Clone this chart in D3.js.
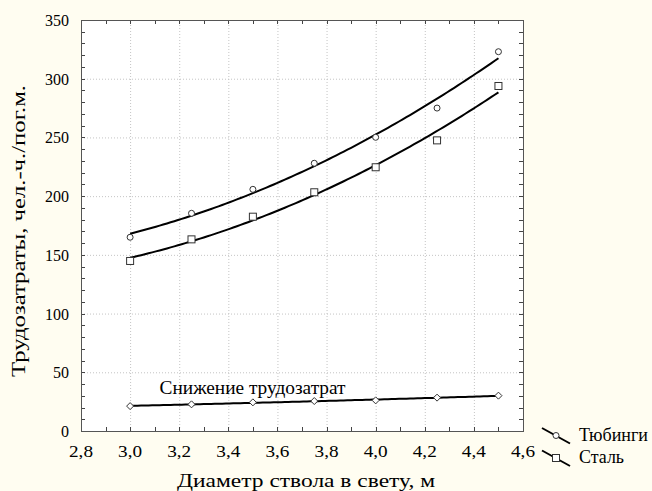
<!DOCTYPE html>
<html><head><meta charset="utf-8">
<script src="https://cdn.jsdelivr.net/npm/d3@7/dist/d3.min.js"></script>
</head>
<body style="margin:0;background:#FFFDF1">
<svg id="c" width="652" height="491" style="display:block"></svg>
<script>
// ---- data ----
const diameters = [3.0, 3.25, 3.5, 3.75, 4.0, 4.25, 4.5];
const tubing = [165, 185.4, 205.8, 228, 250.1, 275, 323];
const steel = [144.8, 163.2, 182.5, 203.3, 224.6, 247.5, 293.8];
const reduction = [21.2, 22.7, 24.4, 25.5, 26.1, 28.4, 30.1];
const xTicks = [2.8, 3.0, 3.2, 3.4, 3.6, 3.8, 4.0, 4.2, 4.4, 4.6];
const yTicks = [0, 50, 100, 150, 200, 250, 300, 350];
const seriesNames = ["Тюбинги", "Сталь"];
const xTitle = "Диаметр ствола в свету, м";
const yTitle = "Трудозатраты, чел.-ч./пог.м.";
const annotation = "Снижение трудозатрат";

const FONT = "Liberation Serif";
const svg = d3.select("#c");
const W = 652, H = 491;
const m = {left: 81, right: 129, top: 20, bottom: 60};
const x = d3.scaleLinear().domain([2.8, 4.6]).range([m.left, W - m.right]);
const y = d3.scaleLinear().domain([0, 350]).range([H - m.bottom, m.top]);

svg.append("rect").attr("x", x(2.8)).attr("y", y(350))
  .attr("width", x(4.6) - x(2.8)).attr("height", y(0) - y(350)).attr("fill", "#fff");

const g = svg.append("g");
g.selectAll(".vg").data(xTicks.slice(1, -1)).join("line")
  .attr("x1", d => x(d) + 0.5).attr("x2", d => x(d) + 0.5).attr("y1", y(0)).attr("y2", y(350))
  .attr("stroke", "#c4c4c4").attr("stroke-dasharray", "1,2");
g.selectAll(".hg").data(yTicks.slice(1, -1)).join("line")
  .attr("y1", d => y(d) + 0.5).attr("y2", d => y(d) + 0.5).attr("x1", x(2.8)).attr("x2", x(4.6))
  .attr("stroke", "#c4c4c4").attr("stroke-dasharray", "1,2");

const fmt = d => d3.format(".1f")(d).replace(".", ",");
const xMinor = d3.range(28, 47, 1).map(v => v / 10);
const yMinor = d3.range(0, 351, 10);
function ticks(axis, tx, ty) {
  const sel = svg.append("g").attr("transform", `translate(${tx},${ty})`).call(axis);
  sel.select(".domain").remove();
  sel.selectAll(".tick line").attr("stroke", "#444").attr("shape-rendering", "crispEdges");
  sel.selectAll(".tick text").remove();
}
ticks(d3.axisBottom(x).tickValues(xMinor).tickSize(-4), 0, y(0));
ticks(d3.axisTop(x).tickValues(xMinor).tickSize(-4), 0, y(350));
ticks(d3.axisLeft(y).tickValues(yMinor).tickSize(-4), x(2.8), 0);
ticks(d3.axisRight(y).tickValues(yMinor).tickSize(-4), x(4.6), 0);

svg.selectAll(".xl").data(xTicks).join("text")
  .attr("x", d => x(d)).attr("y", y(0) + 26).attr("text-anchor", "middle")
  .attr("font-family", FONT).attr("font-size", 17)
  .attr("textLength", 24).attr("lengthAdjust", "spacingAndGlyphs").text(fmt);
svg.selectAll(".yl").data(yTicks).join("text")
  .attr("x", x(2.8) - 12).attr("y", d => y(d) + 6).attr("text-anchor", "end")
  .attr("font-family", FONT).attr("font-size", 16).text(d => d);

svg.append("rect").attr("x", x(2.8) + 0.5).attr("y", y(350) + 0.5)
  .attr("width", x(4.6) - x(2.8)).attr("height", y(0) - y(350))
  .attr("fill", "none").attr("stroke", "#555").attr("shape-rendering", "crispEdges");

// quadratic least-squares fit
function quadFit(xs, ys) {
  const n = xs.length;
  let s = [0,0,0,0,0], t = [0,0,0];
  for (let i = 0; i < n; i++) {
    const xi = xs[i], yi = ys[i];
    for (let k = 0; k <= 4; k++) s[k] += Math.pow(xi, k);
    for (let k = 0; k <= 2; k++) t[k] += Math.pow(xi, k) * yi;
  }
  const A = [[s[0], s[1], s[2], t[0]], [s[1], s[2], s[3], t[1]], [s[2], s[3], s[4], t[2]]];
  for (let i = 0; i < 3; i++) {
    for (let j = i + 1; j < 3; j++) {
      const f = A[j][i] / A[i][i];
      for (let k = i; k < 4; k++) A[j][k] -= f * A[i][k];
    }
  }
  const c = [0,0,0];
  for (let i = 2; i >= 0; i--) {
    let v = A[i][3];
    for (let k = i + 1; k < 3; k++) v -= A[i][k] * c[k];
    c[i] = v / A[i][i];
  }
  return xv => c[0] + c[1] * xv + c[2] * xv * xv;
}

const line = d3.line().x(d => x(d[0])).y(d => y(d[1]));
const samples = d3.range(0, 101).map(i => 3.0 + 1.5 * i / 100);
[tubing, steel, reduction].forEach(vals => {
  const f = quadFit(diameters, vals);
  svg.append("path").datum(samples.map(s => [s, f(s)]))
    .attr("d", line).attr("fill", "none").attr("stroke", "#000").attr("stroke-width", 2);
});

const mk = "#333";
svg.selectAll(".c").data(diameters).join("circle")
  .attr("cx", d => x(d)).attr("cy", (d, i) => y(tubing[i])).attr("r", 3)
  .attr("fill", "#fff").attr("stroke", mk);
svg.selectAll(".s").data(diameters).join("rect")
  .attr("x", d => x(d) - 3.5).attr("y", (d, i) => y(steel[i]) - 3.5)
  .attr("width", 7).attr("height", 7).attr("fill", "#fff").attr("stroke", mk);
svg.selectAll(".d").data(diameters).join("path")
  .attr("d", (d, i) => { const cx = x(d), cy = y(reduction[i]); return `M${cx-3.5},${cy}L${cx},${cy-3.5}L${cx+3.5},${cy}L${cx},${cy+3.5}Z`; })
  .attr("fill", "#fff").attr("stroke", mk);

svg.append("text").attr("x", x(3.12)).attr("y", y(31.5)).attr("font-family", FONT).attr("font-size", 18)
  .attr("textLength", 186).attr("lengthAdjust", "spacingAndGlyphs").text(annotation);

svg.append("text").attr("x", 177).attr("y", 487).attr("font-family", FONT)
  .attr("font-size", 19).attr("textLength", 258).attr("lengthAdjust", "spacingAndGlyphs").text(xTitle);
svg.append("text").attr("transform", `translate(25,377) rotate(-90)`).attr("font-family", FONT)
  .attr("font-size", 19).attr("textLength", 292).attr("lengthAdjust", "spacingAndGlyphs").text(yTitle);

const legLen = [69, 45];
[0, 1].forEach(i => {
  const y0 = 428 + i * 22.5;
  svg.append("line").attr("x1", 542).attr("y1", y0).attr("x2", 570).attr("y2", y0 + 15.5)
    .attr("stroke", "#000").attr("stroke-width", 2);
  if (i === 0) svg.append("circle").attr("cx", 556).attr("cy", y0 + 7.5).attr("r", 3)
    .attr("fill", "#fff").attr("stroke", mk);
  else svg.append("rect").attr("x", 552.5).attr("y", y0 + 4).attr("width", 7).attr("height", 7)
    .attr("fill", "#fff").attr("stroke", mk);
  svg.append("text").attr("x", 579).attr("y", y0 + 12.5).attr("font-family", FONT).attr("font-size", 18)
    .attr("textLength", legLen[i]).attr("lengthAdjust", "spacingAndGlyphs").text(seriesNames[i]);
});
</script>
</body></html>
